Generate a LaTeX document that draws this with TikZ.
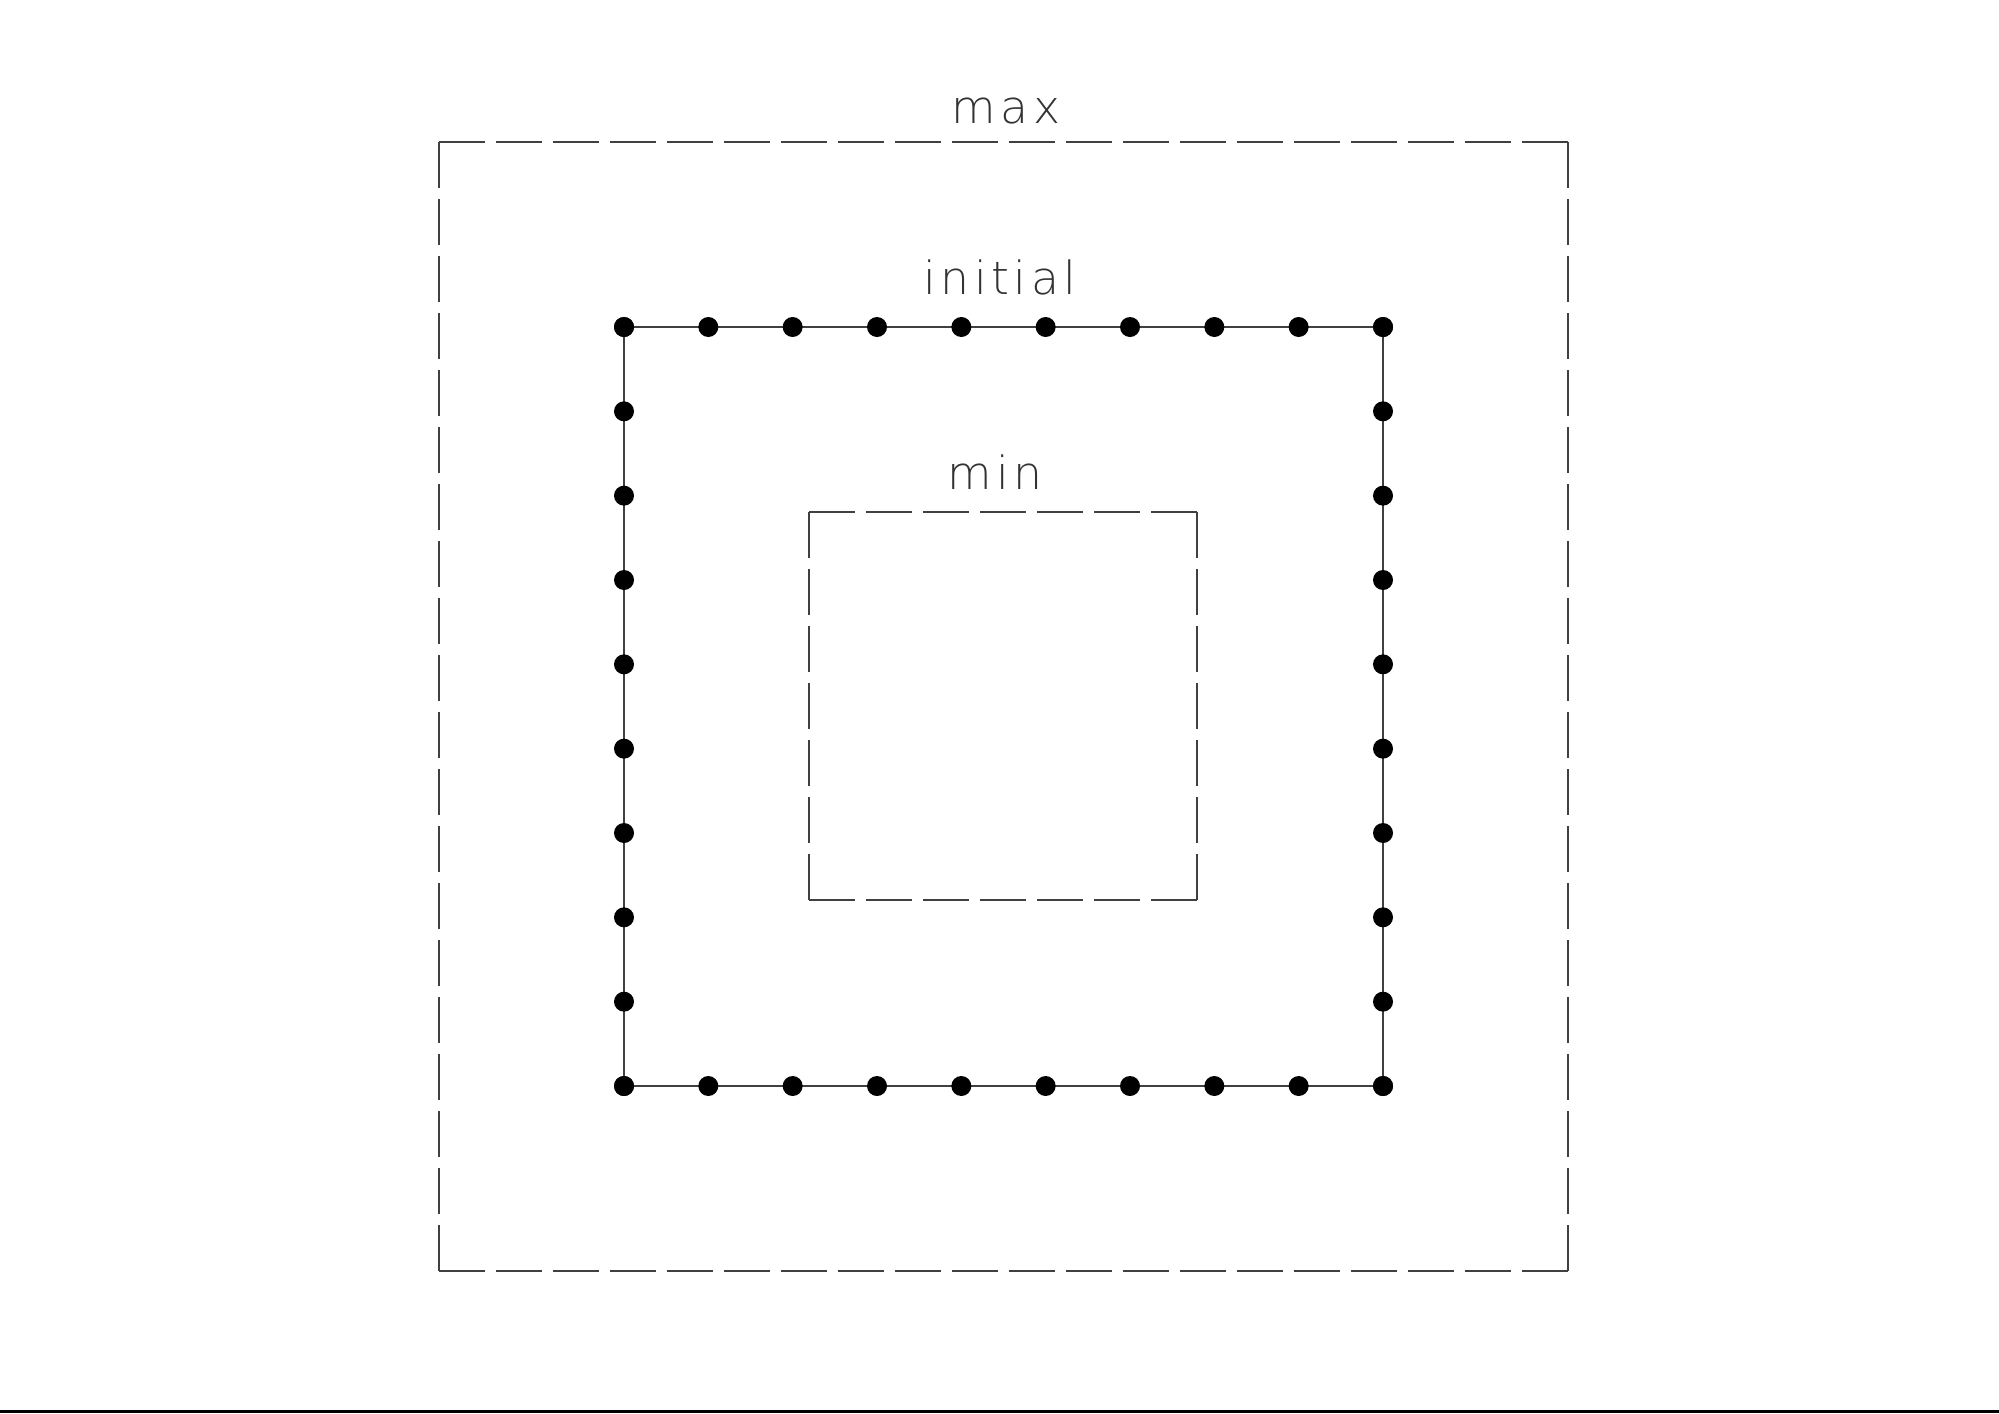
\documentclass[tikz,border=0pt]{standalone}
\usepackage{fontspec}
\usetikzlibrary{calc}
\newfontfamily\cadfont[LetterSpace=10]{DejaVu Sans ExtraLight}
\begin{document}
\begin{tikzpicture}[x=0.1mm,y=-0.1mm,
  edge/.style={draw=black!75,line width=0.2mm},
  cadash/.style={edge,dash pattern=on 4.6mm off 1.1mm},
  vtx/.style={circle,fill=black,inner sep=0pt,minimum size=2.0mm},
  lbl/.style={font=\cadfont\fontsize{13pt}{15pt}\selectfont,text=black!80,inner sep=0pt,anchor=base}]
\useasboundingbox (0,0) rectangle (1999,1413);
% bottom rule
\draw[black,line width=0.3mm] (0,1411.5) -- (1999,1411.5);
% max square
\coordinate (o1) at (438.5,142);
\coordinate (o2) at (1567.5,142);
\coordinate (o3) at (1567.5,1271);
\coordinate (o4) at (438.5,1271);
\draw[cadash] (o1) -- (o2);
\draw[cadash] (o2) -- (o3);
\draw[cadash] (o4) -- (o3);
\draw[cadash] (o1) -- (o4);
% min square
\coordinate (m1) at (809,512);
\coordinate (m2) at (1197,512);
\coordinate (m3) at (1197,900);
\coordinate (m4) at (809,900);
\draw[cadash] (m1) -- (m2);
\draw[cadash] (m2) -- (m3);
\draw[cadash] (m4) -- (m3);
\draw[cadash] (m1) -- (m4);
% initial square
\coordinate (i1) at (624,327);
\coordinate (i2) at (1383,327);
\coordinate (i3) at (1383,1086);
\coordinate (i4) at (624,1086);
\draw[edge] (i1) -- (i2) -- (i3) -- (i4) -- cycle;
\foreach \k in {0,...,9}{
  \node[vtx] (t\k) at ($(i1)!\k/9!(i2)$) {};
  \node[vtx] (b\k) at ($(i4)!\k/9!(i3)$) {};
  \node[vtx] (l\k) at ($(i1)!\k/9!(i4)$) {};
  \node[vtx] (r\k) at ($(i2)!\k/9!(i3)$) {};
}
% labels
\node[lbl] (lmax) at (1006,123) {max};
\node[lbl] (linit) at (1000,294) {initial};
\node[lbl] (lmin) at (995,489) {min};
\end{tikzpicture}
\end{document}
